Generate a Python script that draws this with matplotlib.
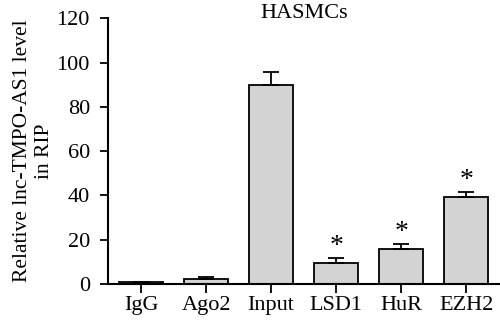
import matplotlib
matplotlib.use('Agg')
import matplotlib.pyplot as plt

categories = ['IgG', 'Ago2', 'Input', 'LSD1', 'HuR', 'EZH2']
values = [0.9, 2.1, 90.0, 9.6, 15.9, 39.4]
errors = [0.2, 1.2, 5.6, 2.3, 2.1, 2.0]
stars = ['', '', '', '*', '*', '*']

plt.rcParams['font.family'] = ['Liberation Serif', 'DejaVu Serif']

fig = plt.figure(figsize=(5, 3.24), dpi=100)
ax = fig.add_axes([0.216, 0.1235, 0.784, 0.82])

x = list(range(len(categories)))
ax.bar(x, values, width=0.68, color='#d3d3d3', edgecolor='black', linewidth=1.3, zorder=2)
ax.errorbar(x, values, yerr=[[0]*len(errors), errors], fmt='none', ecolor='black',
            elinewidth=1.3, capsize=6, capthick=1.3, zorder=3)
for xi, v, e, s in zip(x, values, errors, stars):
    if s:
        ax.text(xi, v + e - 0.5, s, ha='center', va='bottom', fontsize=20)

ax.set_xlim(-0.51, 5.52)
ax.set_ylim(0, 120)
ax.set_yticks([0, 20, 40, 60, 80, 100, 120])
ax.set_xticks(x)
ax.set_xticklabels(categories)
ax.tick_params(axis='both', labelsize=16, width=1.3, length=6, direction='out')
ax.tick_params(axis='x', length=6.5, pad=2)
ax.tick_params(axis='y', pad=7)
for side in ['top', 'right']:
    ax.spines[side].set_visible(False)
for side in ['left', 'bottom']:
    ax.spines[side].set_linewidth(1.5)
ax.set_ylabel('Relative lnc-TMPO-AS1 level\nin RIP', fontsize=15.5, linespacing=1.2, labelpad=2)
ax.text(0.5, 1.0, 'HASMCs', transform=ax.transAxes, ha='center', va='baseline', fontsize=16)

fig.savefig('out.png', dpi=100)
